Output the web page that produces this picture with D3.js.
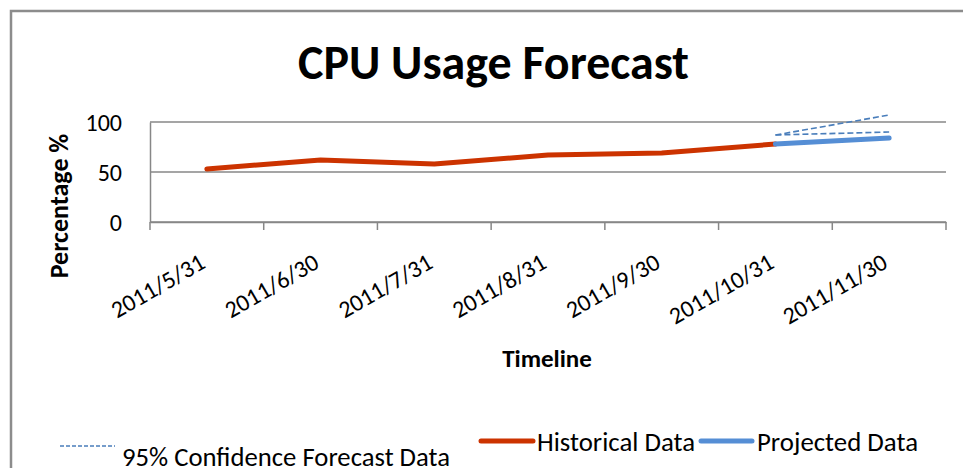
<!DOCTYPE html>
<html><head><meta charset="utf-8">
<script src="https://cdn.jsdelivr.net/npm/d3@7"></script>
<style>body{margin:0;background:#fff}svg{display:block}text{font-family:Carlito,"Open Sans",sans-serif}</style>
</head><body><svg id="c" width="963" height="468"></svg>
<script>
const categories = ["2011/5/31","2011/6/30","2011/7/31","2011/8/31","2011/9/30","2011/10/31","2011/11/30"];
const historical = [53, 62, 58, 67, 69, 78, null];
const projected = [null, null, null, null, null, 78, 84];
const confUpper = [null, null, null, null, null, 87, 107];
const confLower = [null, null, null, null, null, 87, 90];
const yTicks = [0, 50, 100];

const svg = d3.select("#c");
const L = 150, R = 946, T = 122, B = 222;
const x = d3.scaleBand().domain(categories).range([L, R]);
const y = d3.scaleLinear().domain([0, 100]).range([B, T]);
const grid = "#878787";

// outer border
svg.append("path").attr("d", `M11,468 V11 H963`).attr("fill","none").attr("stroke","#8c8c8c").attr("stroke-width",2.5);

// title
svg.append("text").attr("x", 493.5).attr("y", 79).attr("text-anchor","middle")
  .attr("font-size", 48).attr("font-weight","bold").attr("textLength",391)
  .attr("lengthAdjust","spacingAndGlyphs").text("CPU Usage Forecast");

// gridlines
svg.append("g").selectAll("line").data(yTicks).join("line")
  .attr("x1", L).attr("x2", R).attr("y1", d=>y(d)).attr("y2", d=>y(d))
  .attr("stroke", grid).attr("stroke-width", 1.5);

// y axis
const ya = svg.append("g").attr("transform", `translate(${L},0)`)
  .call(d3.axisLeft(y).tickValues(yTicks).tickSize(0).tickPadding(28));
ya.select(".domain").attr("stroke", grid).attr("stroke-width",1.5);
ya.selectAll("text").attr("font-size", 24).attr("fill","#000").attr("font-family","Carlito,'Open Sans',sans-serif").attr("dy","0.35em");

// x axis
const xa = svg.append("g").attr("transform", `translate(0,${B})`)
  .call(d3.axisBottom(x).tickSize(0).tickSizeOuter(0));
xa.select(".domain").attr("stroke", grid).attr("stroke-width",1.5);
xa.selectAll(".tick line").remove();
xa.selectAll(".tick text").remove();
// boundary tick marks
const bounds = categories.map(c => x(c)).concat([R]);
svg.append("g").selectAll("line").data(bounds).join("line")
  .attr("x1", d=>d).attr("x2", d=>d).attr("y1", B).attr("y2", B+8)
  .attr("stroke", grid).attr("stroke-width",1.5);
// rotated labels
svg.append("g").selectAll("text").data(categories).join("text")
  .attr("transform", d => `translate(${x(d)+x.bandwidth()/2},${B+45}) rotate(-30)`)
  .attr("text-anchor","end").attr("font-size", 24).text(d=>d);

// axis titles
svg.append("text").attr("transform","translate(68,206) rotate(-90)").attr("text-anchor","middle")
  .attr("font-size", 26).attr("font-weight","bold").text("Percentage %");
svg.append("text").attr("x", 547).attr("y", 367).attr("text-anchor","middle")
  .attr("font-size", 25).attr("font-weight","bold").text("Timeline");

const cx = (d,i) => x(categories[i]) + x.bandwidth()/2;
const line = d3.line().defined(d => d != null).x(cx).y(d => y(d));

svg.append("path").datum(confUpper).attr("d", line).attr("fill","none")
  .attr("stroke","#4a7ebb").attr("stroke-width",1.6).attr("stroke-dasharray","6,3");
svg.append("path").datum(confLower).attr("d", line).attr("fill","none")
  .attr("stroke","#4a7ebb").attr("stroke-width",1.6).attr("stroke-dasharray","6,3");
svg.append("path").datum(historical).attr("d", line).attr("fill","none")
  .attr("stroke","#cc3300").attr("stroke-width",5).attr("stroke-linecap","round").attr("stroke-linejoin","round");
svg.append("path").datum(projected).attr("d", line).attr("fill","none")
  .attr("stroke","#558ed5").attr("stroke-width",5).attr("stroke-linecap","round").attr("stroke-linejoin","round");

// legend
const lg = svg.append("g").attr("font-size", 26);
lg.append("line").attr("x1",60).attr("x2",115).attr("y1",446).attr("y2",446)
  .attr("stroke","#4a7ebb").attr("stroke-width",1.3).attr("stroke-dasharray","4,2");
lg.append("text").attr("x",122).attr("y",466).attr("textLength",328).attr("lengthAdjust","spacingAndGlyphs").text("95% Confidence Forecast Data");
lg.append("line").attr("x1",481).attr("x2",533).attr("y1",441).attr("y2",441)
  .attr("stroke","#cc3300").attr("stroke-width",5).attr("stroke-linecap","round");
lg.append("text").attr("x",537).attr("y",451).attr("textLength",158).attr("lengthAdjust","spacingAndGlyphs").text("Historical Data");
lg.append("line").attr("x1",701).attr("x2",752).attr("y1",441).attr("y2",441)
  .attr("stroke","#558ed5").attr("stroke-width",5).attr("stroke-linecap","round");
lg.append("text").attr("x",757).attr("y",451).attr("textLength",161).attr("lengthAdjust","spacingAndGlyphs").text("Projected Data");
</script></body></html>
